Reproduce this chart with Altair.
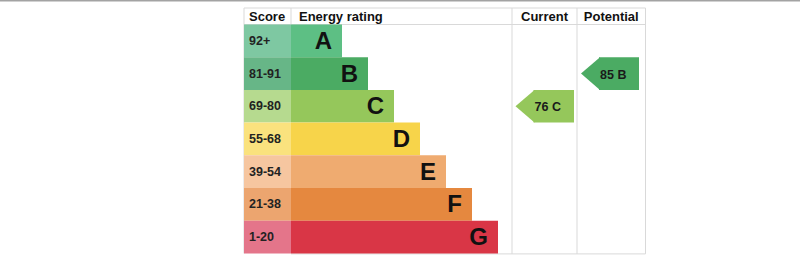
import altair as alt
import pandas as pd

# ---- data ----
bands = ["A", "B", "C", "D", "E", "F", "G"]
score_ranges = ["92+", "81-91", "69-80", "55-68", "39-54", "21-38", "1-20"]
bar_colors = ["#5dbf84", "#4bab63", "#95c75b", "#f7d44a", "#efab70", "#e5883f", "#d93646"]
score_colors = ["#7ec8a2", "#67b687", "#b6da8f", "#fae27e", "#f6c6a0", "#eca56f", "#e4758a"]
headers = ["Score", "Energy rating", "Current", "Potential"]
current_score, current_band = 76, "C"
potential_score, potential_band = 85, "B"

# ---- layout (pixels) ----
W, H = 800, 276
LEFT, SCORE_R, ENERGY_R, CURRENT_R, RIGHT = 244, 291, 512, 577, 645.5
TOP, HEAD_B = 8, 24.5
ROW_H = 32.7
BAR_BASE, BAR_STEP = 51, 26
TIP_W = 18
BOTTOM = HEAD_B + ROW_H * len(bands)

xs = alt.Scale(domain=[0, W], range=[0, W], nice=False, zero=False)
ys = alt.Scale(domain=[0, H], range=[0, H], nice=False, zero=False)

rows = []
for i, b in enumerate(bands):
    t = HEAD_B + ROW_H * i
    rows.append(dict(band=b, score=score_ranges[i], top=t, bot=t + ROW_H, mid=t + ROW_H / 2,
                     sx0=LEFT, sx1=SCORE_R, bx1=SCORE_R + BAR_BASE + BAR_STEP * i,
                     lx=SCORE_R + BAR_BASE + BAR_STEP * i - 10, tx=LEFT + 5,
                     bcol=bar_colors[i], scol=score_colors[i]))
rdf = pd.DataFrame(rows)

enc_y = dict(y=alt.Y("top:Q", scale=ys, axis=None), y2="bot:Q")

score_cells = alt.Chart(rdf).mark_rect().encode(
    x=alt.X("sx0:Q", scale=xs, axis=None), x2="sx1:Q", **enc_y,
    color=alt.Color("scol:N", scale=None))
bars = alt.Chart(rdf).mark_rect().encode(
    x=alt.X("sx1:Q", scale=xs, axis=None), x2="bx1:Q", **enc_y,
    color=alt.Color("bcol:N", scale=None))
score_text = alt.Chart(rdf).mark_text(align="left", baseline="middle", font="Liberation Sans",
                                      fontWeight="bold", fontSize=12.5, color="#222222").encode(
    x=alt.X("tx:Q", scale=xs, axis=None), y=alt.Y("mid:Q", scale=ys, axis=None), text="score:N")
letters = alt.Chart(rdf).mark_text(align="right", baseline="middle", font="Liberation Sans",
                                   fontWeight="bold", fontSize=24, color="#111111", dy=1).encode(
    x=alt.X("lx:Q", scale=xs, axis=None), y=alt.Y("mid:Q", scale=ys, axis=None), text="band:N")

# grid lines
lines = pd.DataFrame([
    dict(x=LEFT, x2=RIGHT, y=TOP, y2=TOP),
    dict(x=LEFT, x2=RIGHT, y=HEAD_B, y2=HEAD_B),
    dict(x=SCORE_R, x2=RIGHT, y=BOTTOM + 0.5, y2=BOTTOM + 0.5),
    dict(x=LEFT, x2=LEFT, y=TOP, y2=BOTTOM),
    dict(x=SCORE_R, x2=SCORE_R, y=TOP, y2=HEAD_B),
    dict(x=ENERGY_R, x2=ENERGY_R, y=TOP, y2=BOTTOM + 0.5),
    dict(x=CURRENT_R, x2=CURRENT_R, y=TOP, y2=BOTTOM + 0.5),
    dict(x=RIGHT, x2=RIGHT, y=TOP, y2=BOTTOM + 0.5),
])
grid = alt.Chart(lines).mark_rule(color="#d9d9d9", strokeWidth=1).encode(
    x=alt.X("x:Q", scale=xs, axis=None), x2="x2:Q",
    y=alt.Y("y:Q", scale=ys, axis=None), y2="y2:Q")

page_line = alt.Chart(pd.DataFrame([dict(x=0, x2=W, y=0.5, y2=0.5)])).mark_rule(
    color="#a3a3a3", strokeWidth=2).encode(
    x=alt.X("x:Q", scale=xs, axis=None), x2="x2:Q",
    y=alt.Y("y:Q", scale=ys, axis=None), y2="y2:Q")

# headers
hdf = pd.DataFrame([
    dict(t=headers[0], x=LEFT + 5, a="left"),
    dict(t=headers[1], x=SCORE_R + 8, a="left"),
    dict(t=headers[2], x=(ENERGY_R + CURRENT_R) / 2, a="center"),
    dict(t=headers[3], x=(CURRENT_R + RIGHT) / 2, a="center"),
])
hdf["y"] = (TOP + HEAD_B) / 2 + 1
head_left = alt.Chart(hdf[hdf.a == "left"]).mark_text(
    align="left", baseline="middle", font="Liberation Sans", fontWeight="bold",
    fontSize=13, color="#111111").encode(
    x=alt.X("x:Q", scale=xs, axis=None), y=alt.Y("y:Q", scale=ys, axis=None), text="t:N")
head_center = alt.Chart(hdf[hdf.a == "center"]).mark_text(
    align="center", baseline="middle", font="Liberation Sans", fontWeight="bold",
    fontSize=13, color="#111111").encode(
    x=alt.X("x:Q", scale=xs, axis=None), y=alt.Y("y:Q", scale=ys, axis=None), text="t:N")

# arrows: rectangular body + triangular tip
arrows = [("current", current_score, current_band, ENERGY_R + 3.5, CURRENT_R - 3),
          ("potential", potential_score, potential_band, CURRENT_R + 4, RIGHT - 6.5)]
arows = []
for name, sc, b, xl, xr in arrows:
    i = bands.index(b)
    t = HEAD_B + ROW_H * i
    arows.append(dict(arrow=name, t=f"{sc}  {b}", top=t, bot=t + ROW_H, mid=t + ROW_H / 2,
                      bx0=xl + TIP_W, bx1=xr, lx=xl + 19, col=bar_colors[i]))
adf = pd.DataFrame(arows)
arrow_body = alt.Chart(adf).mark_rect().encode(
    x=alt.X("bx0:Q", scale=xs, axis=None), x2="bx1:Q",
    y=alt.Y("top:Q", scale=ys, axis=None), y2="bot:Q",
    color=alt.Color("col:N", scale=None))
half = ROW_H / 2
tip_path = f"M0.06,-1L{-TIP_W / half:.4f},0L0.06,1Z"
arrow_tip = alt.Chart(adf).mark_point(
    shape=tip_path, filled=True, size=ROW_H ** 2, strokeWidth=0, opacity=1).encode(
    x=alt.X("bx0:Q", scale=xs, axis=None), y=alt.Y("mid:Q", scale=ys, axis=None),
    color=alt.Color("col:N", scale=None))
arrow_text = alt.Chart(adf).mark_text(
    align="left", baseline="middle", font="Liberation Sans", fontWeight="bold",
    fontSize=12.5, color="#1a1a1a", dy=1).encode(
    x=alt.X("lx:Q", scale=xs, axis=None), y=alt.Y("mid:Q", scale=ys, axis=None), text="t:N")

chart = alt.layer(
    page_line, grid, score_cells, bars, score_text, letters,
    head_left, head_center, arrow_body, arrow_tip, arrow_text
).properties(width=W, height=H, padding=0, autosize="none", background="white"
).configure_view(stroke=None)

chart.save("out.html", embed_options={"renderer": "svg", "actions": False})
